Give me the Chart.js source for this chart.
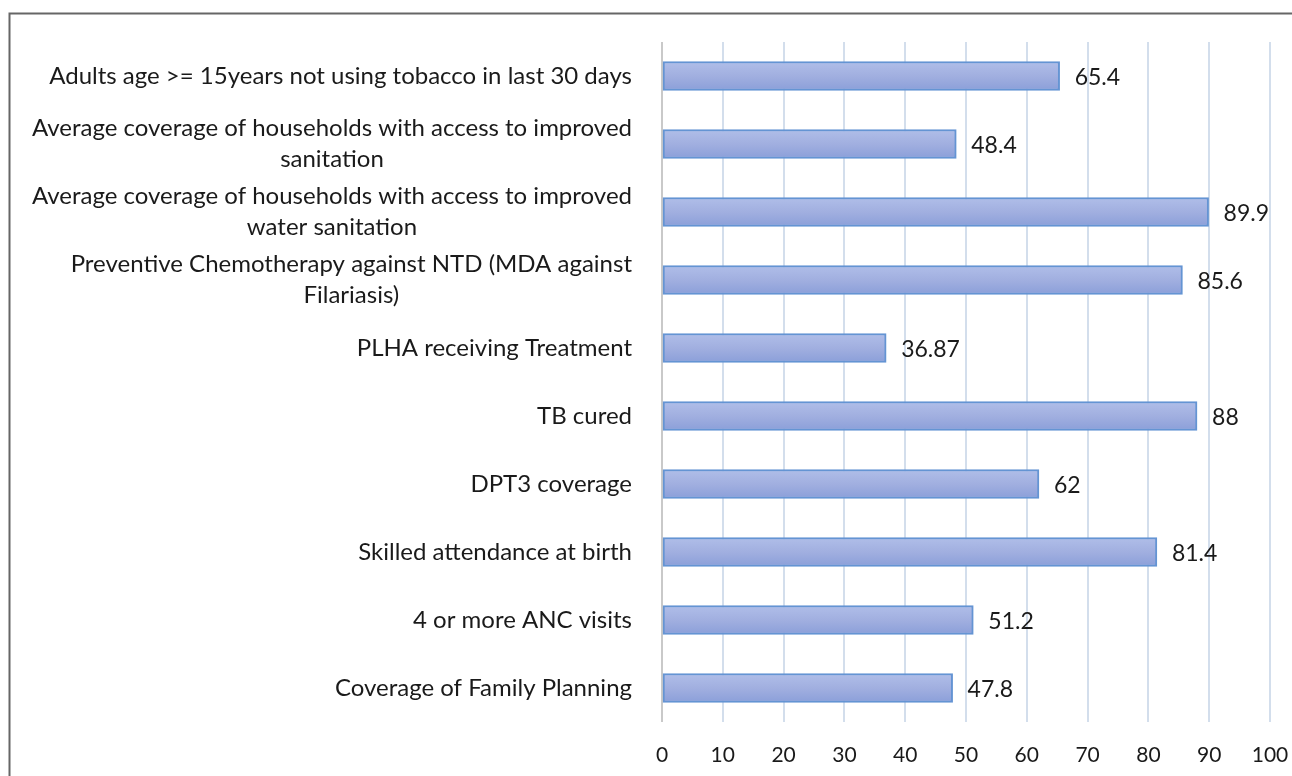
<!DOCTYPE html>
<html>
<head>
<meta charset="utf-8">
<title>Health indicators coverage</title>
<script src="https://cdn.jsdelivr.net/npm/chart.js@4/dist/chart.umd.min.js"></script>
<style>
  html, body { margin: 0; padding: 0; background: #ffffff; }
  #wrap { width: 1292px; height: 776px; position: relative; }
</style>
</head>
<body>
<div id="wrap"><canvas id="chart" width="1292" height="776"></canvas></div>
<script>
// Indicator names, one entry per bar (array entries are wrapped lines)
const categories = [
  ["Adults age >= 15years not using tobacco in last 30 days"],
  ["Average coverage of households with access to improved", "sanitation"],
  ["Average coverage of households with access to improved", "water sanitation"],
  ["Preventive Chemotherapy against NTD (MDA against", "Filariasis)"],
  ["PLHA receiving Treatment"],
  ["TB cured"],
  ["DPT3 coverage"],
  ["Skilled attendance at birth"],
  ["4 or more ANC visits"],
  ["Coverage of Family Planning"]
];
// Coverage (%)
const values = [65.4, 48.4, 89.9, 85.6, 36.87, 88, 62, 81.4, 51.2, 47.8];
const valueLabels = ["65.4", "48.4", "89.9", "85.6", "36.87", "88", "62", "81.4", "51.2", "47.8"];
// Horizontal axis
const xMin = 0, xMax = 100, xStep = 10;

const FONT = "Lato, 'Open Sans', sans-serif";
const CAT_SIZE = 24;
const VALUE_SIZE = 23;
const TICK_SIZE = 21;
const BAR_THICK = 29;

// Light-to-mid blue vertical gradient for each bar
function barFill(c) {
  const chart = c.chart;
  const y = chart.scales && chart.scales.y;
  if (!y || c.dataIndex === undefined) return '#9aabde';
  const yc = y.getPixelForValue(c.dataIndex);
  if (!isFinite(yc)) return '#9aabde';
  const g = chart.ctx.createLinearGradient(0, yc - BAR_THICK / 2, 0, yc + BAR_THICK / 2);
  g.addColorStop(0, '#b0bee8');
  g.addColorStop(0.5, '#a1afe0');
  g.addColorStop(1, '#8b9fd9');
  return g;
}

// Outer frame lines (top and left)
const framePlugin = {
  id: 'frame',
  beforeDraw(chart) {
    const ctx = chart.ctx;
    ctx.save();
    ctx.fillStyle = '#ffffff';
    ctx.fillRect(0, 0, chart.width, chart.height);
    ctx.strokeStyle = '#666666';
    ctx.lineWidth = 2;
    ctx.beginPath();
    ctx.moveTo(9.5, chart.height);
    ctx.lineTo(9.5, 13.5);
    ctx.lineTo(chart.width, 13.5);
    ctx.stroke();
    ctx.restore();
  }
};

// Category names: each block right-aligned, lines centred within the block
const categoryLabelPlugin = {
  id: 'categoryLabels',
  afterDraw(chart) {
    const ctx = chart.ctx;
    const y = chart.scales.y;
    const rightEdge = chart.chartArea.left - 30;
    const lineH = 31;
    ctx.save();
    ctx.font = CAT_SIZE + 'px ' + FONT;
    ctx.fillStyle = '#1a1a1a';
    ctx.textBaseline = 'middle';
    ctx.textAlign = 'center';
    categories.forEach((lines, i) => {
      const yc = y.getPixelForValue(i);
      const w = Math.max(...lines.map(l => ctx.measureText(l).width));
      const cx = rightEdge - w / 2;
      const top = yc - (lines.length - 1) * lineH / 2;
      lines.forEach((l, k) => ctx.fillText(l, cx, top + k * lineH));
    });
    ctx.restore();
  }
};

// Value label just past the end of each bar
const valueLabelPlugin = {
  id: 'valueLabels',
  afterDatasetsDraw(chart) {
    const ctx = chart.ctx;
    const meta = chart.getDatasetMeta(0);
    ctx.save();
    ctx.font = VALUE_SIZE + 'px ' + FONT;
    ctx.fillStyle = '#1a1a1a';
    ctx.textBaseline = 'middle';
    ctx.textAlign = 'left';
    meta.data.forEach((bar, i) => {
      ctx.fillText(valueLabels[i], bar.x + 15, bar.y + 2);
    });
    ctx.restore();
  }
};

new Chart(document.getElementById('chart'), {
  type: 'bar',
  data: {
    labels: categories.map(l => l.join(' ')),
    datasets: [{
      data: values,
      backgroundColor: barFill,
      borderColor: '#6494d3',
      borderWidth: 2,
      borderSkipped: false,
      barThickness: BAR_THICK
    }]
  },
  options: {
    indexAxis: 'y',
    responsive: false,
    animation: false,
    devicePixelRatio: 1,
    layout: { padding: { top: 42, right: 0, bottom: 0, left: 0 } },
    plugins: { legend: { display: false }, tooltip: { enabled: false } },
    scales: {
      x: {
        min: xMin,
        max: xMax,
        ticks: {
          stepSize: xStep,
          padding: 21,
          color: '#1a1a1a',
          font: { family: FONT, size: TICK_SIZE }
        },
        grid: {
          color: c => (c.tick && c.tick.value === 0 ? '#c9c9c9' : '#d3deec'),
          lineWidth: 2,
          drawTicks: false
        },
        border: { display: false },
        afterFit(scale) {
          scale.height = 54;
          scale.paddingRight = 22;
        }
      },
      y: {
        type: 'category',
        ticks: { display: false },
        grid: { display: false },
        border: { display: false },
        afterFit(scale) { scale.width = 662; }
      }
    }
  },
  plugins: [framePlugin, categoryLabelPlugin, valueLabelPlugin]
});
</script>
</body>
</html>
